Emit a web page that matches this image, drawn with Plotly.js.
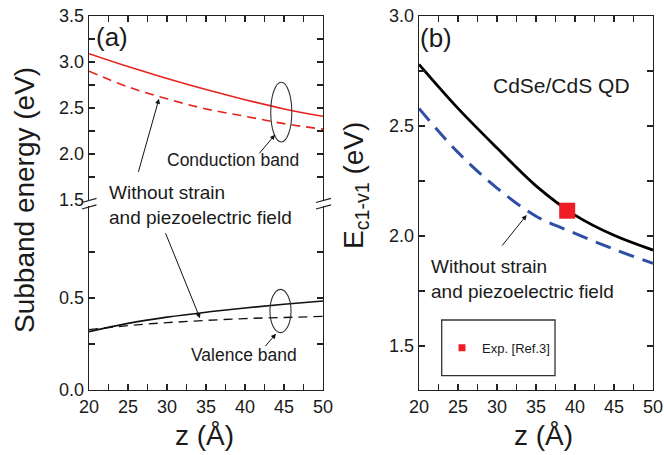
<!DOCTYPE html>
<html>
<head>
<meta charset="utf-8">
<script src="https://cdn.plot.ly/plotly-3.0.1.min.js"></script>
<style>html,body{margin:0;padding:0;background:#fff;}#chart{width:664px;height:455px;}</style>
</head>
<body>
<div id="chart"></div>
<script>
// ---- data ----
const z = [20, 25, 30, 35, 40, 45, 50];
// panel (a): subband energies (eV)
const cbStrain   = [3.09, 2.95, 2.82, 2.70, 2.59, 2.49, 2.41];
const cbNoStrain = [2.90, 2.73, 2.60, 2.49, 2.41, 2.33, 2.27];
const vbStrain   = [0.317, 0.362, 0.396, 0.423, 0.446, 0.466, 0.484];
const vbNoStrain = [0.328, 0.350, 0.366, 0.378, 0.388, 0.394, 0.400];
// panel (b): transition energy Ec1-v1 (eV)
const eStrain    = [2.78, 2.58, 2.40, 2.228, 2.095, 2.003, 1.936];
const eNoStrain  = [2.58, 2.38, 2.218, 2.09, 2.012, 1.94, 1.876];
const expZ = [39];
const expE = [2.115];
const expName = 'Exp. [Ref.3]';

// ---- helpers: pixel position -> paper coordinates (for decorations) ----
const L = 89, R = 11, T = 16, B = 65, PW = 664 - L - R, PH = 455 - T - B;
const px = v => (v - L) / PW;
const py = v => (T + PH - v) / PH;

const AX = '#222';
const common = {
  showline: true, linecolor: AX, linewidth: 1.3,
  ticks: 'inside', ticklen: 6, tickwidth: 1.2, tickcolor: AX,
  showgrid: false, zeroline: false,
  tickfont: {size: 18, color: '#1a1a1a'}
};
const xDomA = [0, px(323)], xDomB = [px(419), 1];

const traces = [
  {x: z, y: cbStrain, xaxis: 'x3', yaxis: 'y2', mode: 'lines', showlegend: false,
   line: {color: '#E8231E', width: 1.6, shape: 'spline'}},
  {x: z, y: cbNoStrain, xaxis: 'x3', yaxis: 'y2', mode: 'lines', showlegend: false,
   line: {color: '#E8231E', width: 1.6, shape: 'spline', dash: '9px,6px'}},
  {x: z, y: vbStrain, xaxis: 'x', yaxis: 'y', mode: 'lines', showlegend: false,
   line: {color: '#111', width: 1.6, shape: 'spline'}},
  {x: z, y: vbNoStrain, xaxis: 'x', yaxis: 'y', mode: 'lines', showlegend: false,
   line: {color: '#111', width: 1.4, shape: 'spline', dash: '9px,6px'}},
  {x: z, y: eStrain, xaxis: 'x2', yaxis: 'y3', mode: 'lines', showlegend: false,
   line: {color: '#000', width: 2.8, shape: 'spline'}},
  {x: z, y: eNoStrain, xaxis: 'x2', yaxis: 'y3', mode: 'lines', showlegend: false,
   line: {color: '#2E4FA5', width: 3, shape: 'spline', dash: '16px,9px'}},
  {x: expZ, y: expE, xaxis: 'x2', yaxis: 'y3', mode: 'markers', name: expName, showlegend: true,
   marker: {symbol: 'square', size: 7, color: '#EE1C25'}},
  {x: expZ, y: expE, xaxis: 'x2', yaxis: 'y3', mode: 'markers', name: expName, showlegend: false,
   marker: {symbol: 'square', size: 16, color: '#EE1C25'}}
];

const arrow = (xr, yr, tx, ty, hx, hy) => ({
  xref: xr, yref: yr, axref: xr, ayref: yr, x: hx, y: hy, ax: tx, ay: ty,
  text: '', showarrow: true, arrowhead: 2, arrowsize: 1, arrowwidth: 1, arrowcolor: '#111'
});
const label = (text, x, y, size, xanchor, extra) => Object.assign({
  xref: 'paper', yref: 'paper', x: x, y: y, text: text, showarrow: false,
  xanchor: xanchor || 'center', yanchor: 'middle', align: 'left',
  font: {size: size, color: '#1a1a1a'}
}, extra || {});

const annotations = [
  label('(a)', px(111.5), py(37), 26),
  label('(b)', px(436), py(38), 26),
  label('Conduction band', px(232.5), py(160), 17.5),
  label('Valence band', px(244), py(355), 17.5),
  label('Without strain<br>and piezoelectric field', px(107), py(205), 19, 'left'),
  label('Without strain<br>and piezoelectric field', px(429), py(279), 19, 'left'),
  label('CdSe/CdS QD', px(561), py(86), 21),
  label('Subband energy (eV)', px(24), py(200), 28, 'center', {textangle: -90}),
  label('E<sub>c1-v1</sub> (eV)', px(355), py(186), 28, 'center', {textangle: -90}),
  label('z (Å)', px(204), py(435), 28),
  label('z (Å)', px(543), py(435), 28),
  arrow('x3', 'y2', 41.67, 1.99, 43.85, 2.21),
  arrow('x3', 'y2', 26.28, 1.79, 28.97, 2.60),
  arrow('x', 'y', 29.74, 0.86, 34.23, 0.39),
  arrow('x', 'y', 42.44, 0.23, 43.97, 0.306),
  arrow('x2', 'y3', 30.51, 1.95, 33.8, 2.095)
];

const seg = (x0, y0, x1, y1) => ({type: 'line', xref: 'paper', yref: 'paper',
  x0: px(x0), y0: py(y0), x1: px(x1), y1: py(y1), line: {color: AX, width: 1.2}});

const shapes = [
  {type: 'circle', xref: 'x3', yref: 'y2', x0: 43.3, x1: 46.0, y0: 2.13, y1: 2.78,
   line: {color: '#333', width: 1.1}},
  {type: 'circle', xref: 'x', yref: 'y', x0: 43.2, x1: 45.9, y0: 0.312, y1: 0.547,
   line: {color: '#333', width: 1.1}},
  // axis-break marks
  seg(82, 202.5, 96.5, 198.3), seg(82, 209, 96.5, 204.8),
  seg(316, 202.5, 331, 198.3), seg(316, 209, 331, 204.8),
  // legend frame
  {type: 'rect', xref: 'paper', yref: 'paper', x0: px(441.7), x1: px(555), y0: py(375.7), y1: py(320),
   line: {color: '#333', width: 1.3}}
];

const layout = {
  width: 664, height: 455,
  margin: {l: L, r: R, t: T, b: B},
  paper_bgcolor: '#fff', plot_bgcolor: '#fff',
  font: {family: 'Liberation Sans, Arial, sans-serif', color: '#1a1a1a'},
  showlegend: true,
  legend: {x: px(442), y: py(347.7), xanchor: 'left', yanchor: 'middle',
    bgcolor: 'rgba(0,0,0,0)', borderwidth: 0, font: {size: 13, color: '#1a1a1a'}},
  xaxis: Object.assign({}, common, {domain: xDomA, range: [20, 50], anchor: 'y',
    tick0: 20, dtick: 5, minor: {tick0: 20, dtick: 2.5, ticks: 'inside', ticklen: 6, tickcolor: AX, tickwidth: 1.2}}),
  xaxis3: Object.assign({}, common, {domain: xDomA, range: [20, 50], anchor: 'y2', side: 'top',
    showticklabels: false, tick0: 20, dtick: 2.5}),
  yaxis: Object.assign({}, common, {domain: [0, py(206)], range: [0, 1.0], anchor: 'x', mirror: 'ticks',
    tickvals: [0, 0.5], ticktext: ['0.0', '0.5'],
    minor: {tickvals: [0.25, 0.75], ticks: 'inside', ticklen: 6, tickcolor: AX, tickwidth: 1.2}}),
  yaxis2: Object.assign({}, common, {domain: [py(200), 1], range: [1.5, 3.5], anchor: 'x3', mirror: 'ticks',
    tick0: 0, dtick: 0.5, tickformat: '.1f',
    minor: {tick0: 0, dtick: 0.25, ticks: 'inside', ticklen: 6, tickcolor: AX, tickwidth: 1.2}}),
  xaxis2: Object.assign({}, common, {domain: xDomB, range: [20, 50], anchor: 'y3', mirror: 'ticks',
    tick0: 20, dtick: 5, minor: {tick0: 20, dtick: 2.5, ticks: 'inside', ticklen: 6, tickcolor: AX, tickwidth: 1.2}}),
  yaxis3: Object.assign({}, common, {domain: [0, 1], range: [1.3, 3.0], anchor: 'x2', mirror: 'ticks',
    tick0: 0, dtick: 0.5, tickformat: '.1f',
    minor: {tick0: 0, dtick: 0.25, ticks: 'inside', ticklen: 6, tickcolor: AX, tickwidth: 1.2}}),
  annotations: annotations,
  shapes: shapes
};

Plotly.newPlot('chart', traces, layout, {displayModeBar: false, staticPlot: true});
</script>
</body>
</html>
